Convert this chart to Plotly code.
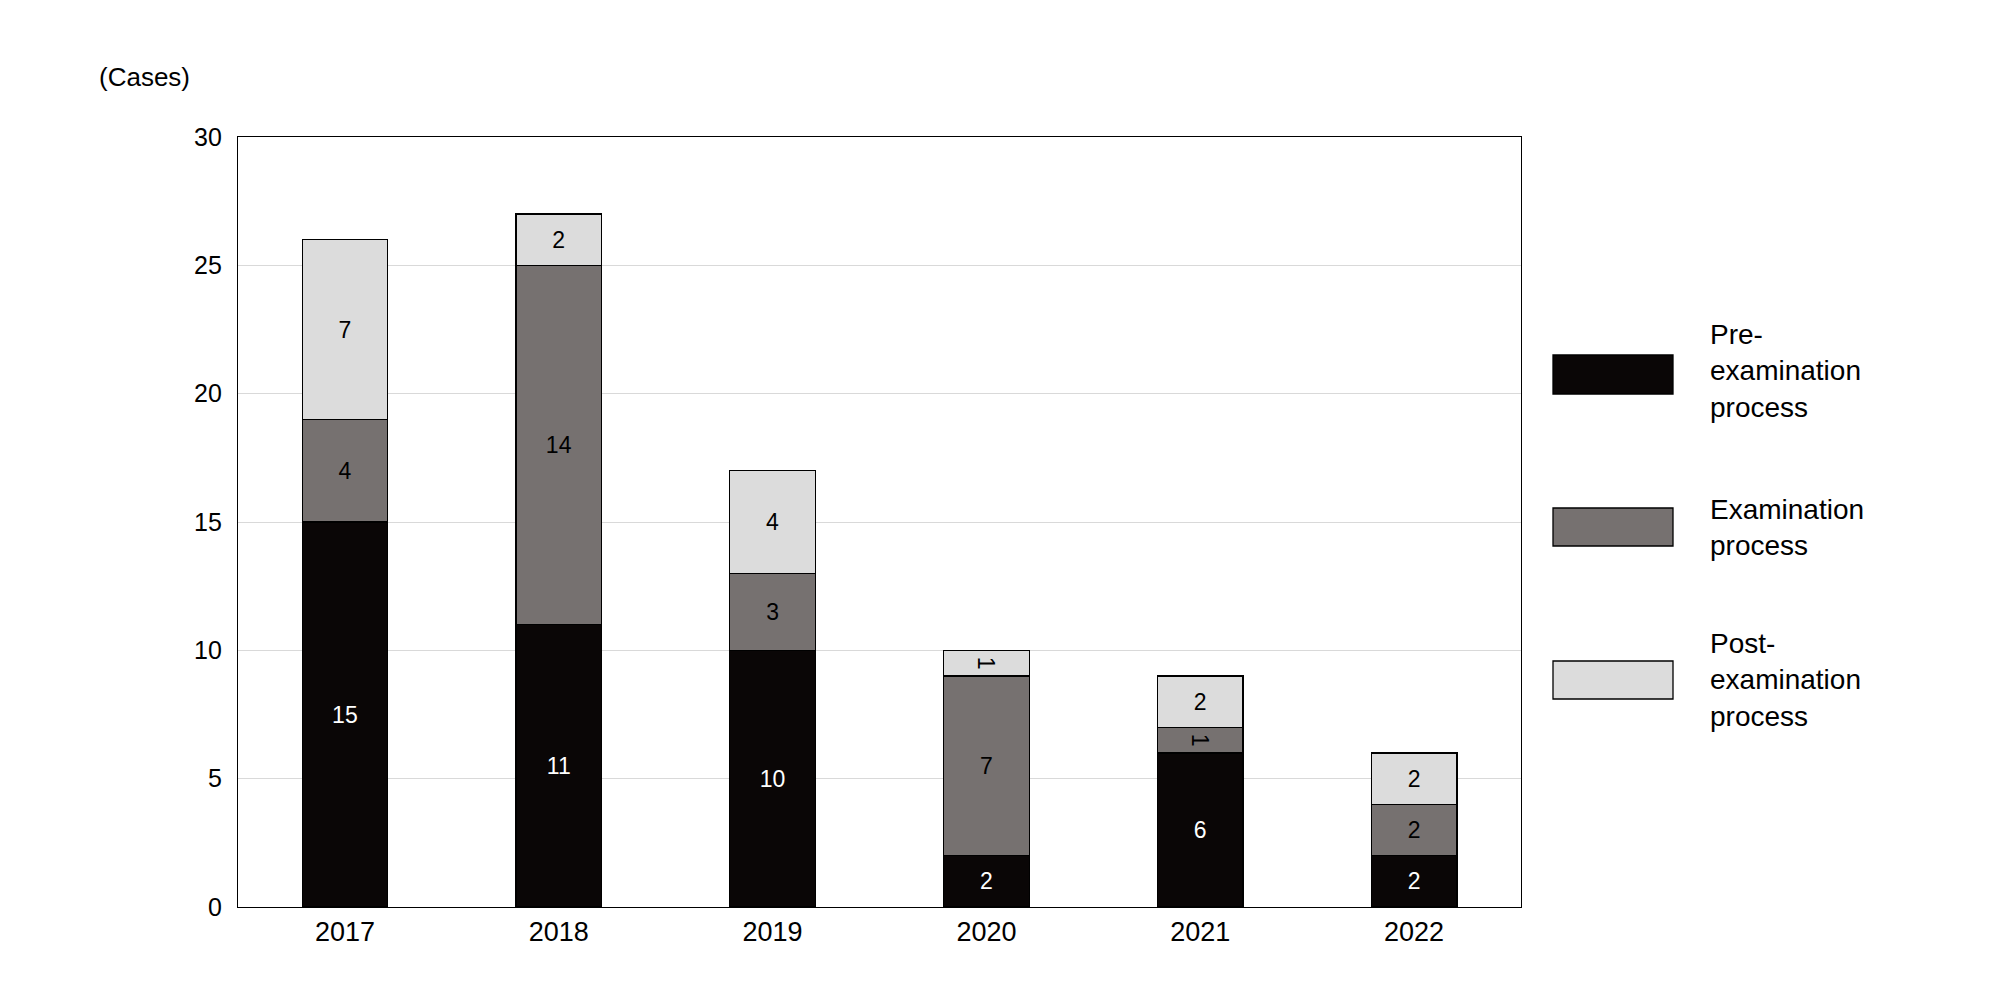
import plotly.graph_objects as go

years = ["2017", "2018", "2019", "2020", "2021", "2022"]
pre = [15, 11, 10, 2, 6, 2]
exam = [4, 14, 3, 7, 1, 2]
post = [7, 2, 4, 1, 2, 2]
names = ["Pre-<br>examination<br>process", "Examination<br>process", "Post-<br>examination<br>process"]
colors = ["#0a0606", "#767170", "#dcdcdc"]
textcolors = ["white", "black", "black"]

W, H = 2000, 1000
L, R, T, B = 230, 1513, 129, 899

fig = go.Figure()
for vals, nm, c, tc in zip([pre, exam, post], names, colors, textcolors):
    fig.add_trace(go.Bar(x=years, y=vals, name=nm, marker=dict(color=c, line=dict(color="black", width=1.3)),
                         width=0.4, text=vals, textposition="inside", insidetextanchor="middle",
                         textfont=dict(color=tc, size=23, family="Liberation Sans"), showlegend=False))

def px(x): return (x - L) / (R - L)
def py(y): return (B - y) / (B - T)

shapes = []
annotations = [dict(text="(Cases)", x=px(89), y=py(69), xref="paper", yref="paper", xanchor="left",
                    yanchor="middle", showarrow=False, font=dict(size=26, color="black"))]
boxes = [(347, 386, 363), (500, 538, 519), (653, 691, 672)]
for (y0, y1, yc), nm, c in zip(boxes, names, colors):
    shapes.append(dict(type="rect", xref="paper", yref="paper", x0=px(1545), x1=px(1665), y0=py(y1), y1=py(y0),
                       fillcolor=c, line=dict(color="black", width=1.3)))
    annotations.append(dict(text=nm, x=px(1700), y=py(yc), xref="paper", yref="paper", xanchor="left",
                            yanchor="middle", align="left", showarrow=False, font=dict(size=28, color="black")))

fig.update_layout(
    width=W, height=H, barmode="stack", plot_bgcolor="white", paper_bgcolor="white",
    margin=dict(l=L, r=W - R, t=T, b=H - B), bargap=0.6,
    font=dict(family="Liberation Sans", color="black"),
    shapes=shapes, annotations=annotations,
    xaxis=dict(showline=True, linecolor="black", linewidth=1.3, mirror=True, ticks="",
               tickfont=dict(size=27), range=[-0.5, 5.5]),
    yaxis=dict(range=[0, 30], dtick=5, showgrid=True, gridcolor="#d9d9d9", gridwidth=1.3,
               showline=True, linecolor="black", linewidth=1.3, mirror=True, ticks="",
               tickfont=dict(size=25), ticklabelstandoff=10),
)
fig.write_html("out.html")
